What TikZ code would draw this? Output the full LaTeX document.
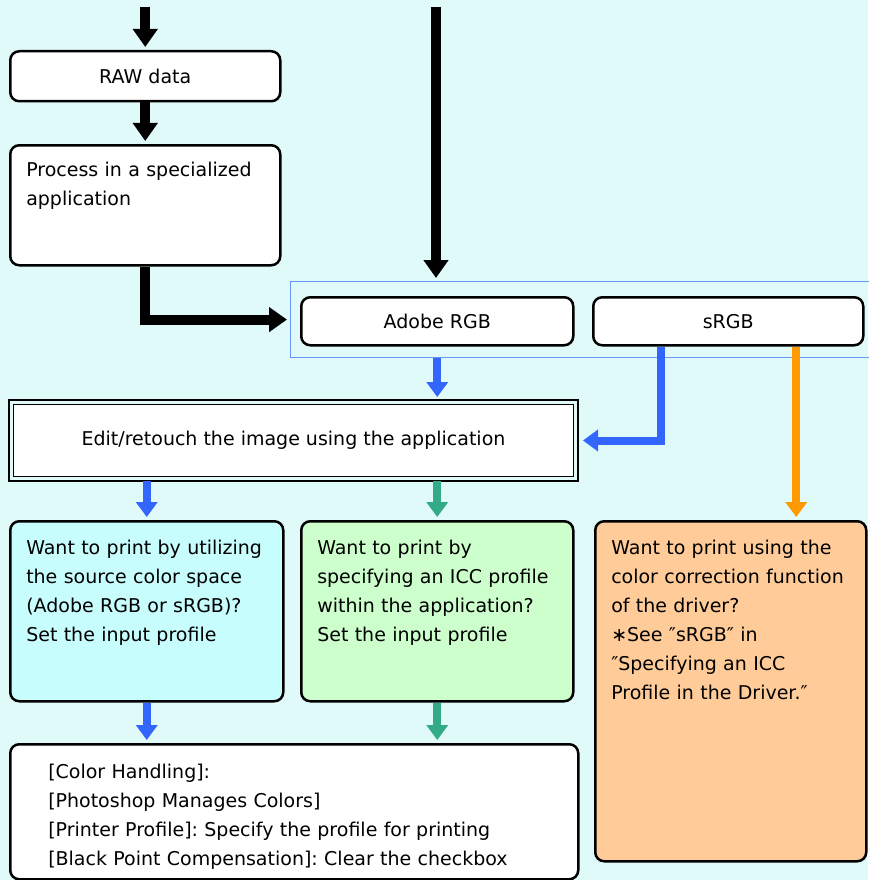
\documentclass[tikz,border=0pt]{standalone}
\usepackage{fontspec}
\setmainfont{DejaVu Sans}
\usetikzlibrary{arrows.meta, calc}
\definecolor{FlowBack}{RGB}{224,250,250}
\definecolor{FlowFrame}{RGB}{102,153,255}
\definecolor{FlowBlue}{RGB}{51,102,255}
\definecolor{FlowGreen}{RGB}{51,170,136}
\definecolor{FlowOrange}{RGB}{255,153,0}
\definecolor{FlowCyan}{RGB}{200,253,253}
\definecolor{FlowMint}{RGB}{204,255,204}
\definecolor{FlowPeach}{RGB}{255,204,153}
\frenchspacing

\tikzset{
  every node/.style={font=\fontsize{19}{29}\selectfont},
  plainbox/.style={draw, line width=2.5pt, rounded corners=9pt, fill=white,
                   anchor=north west, inner sep=0pt, minimum height=48pt},
  textbox/.style={plainbox, align=left, inner xsep=16pt, text height=33pt},
  blk/.style={line width=10pt, -{Triangle[width=24pt,length=18pt]}, shorten >=3pt},
  clr/.style={line width=8pt, draw=#1, -{Triangle[width=21pt,length=15pt]}, shorten >=3pt},
}

\begin{document}
\begin{tikzpicture}[x=1pt,y=-1pt]
  \path[use as bounding box] (0,0) rectangle (868,880);
  \fill[FlowBack] (0,0) rectangle (868,880);

  % incoming data
  \node[plainbox, minimum width=270pt, minimum height=50pt] (raw) at (9,50) {RAW data};
  \node[textbox, text width=238pt, text height=31pt, text depth=89pt] (proc) at (9,144)
    {Process in a specialized\\application};
  \coordinate (inL) at (raw.north |- 0,7);
  \coordinate (inR) at (436,7);

  % colour spaces
  \node[draw=FlowFrame, line width=1.2pt, anchor=north west, inner sep=0pt,
        minimum width=590pt, minimum height=76pt] (space) at (290,281) {};
  \node[plainbox, minimum width=272pt] (adobe) at (300,296) {Adobe RGB};
  \node[plainbox, minimum width=270pt] (srgb) at (592,296) {sRGB};

  % editing
  \node[plainbox, line width=1pt, sharp corners, minimum width=560pt, minimum height=72pt] (edit) at (13,404)
    {Edit/retouch the image using the application};
  \draw[line width=2.5pt] ([shift={(-4,-4)}]edit.north west) rectangle ([shift={(4,4)}]edit.south east);

  % printing choices
  \node[textbox, fill=FlowCyan, text width=241pt, text depth=147pt] (usesrc) at (9,520)
    {Want to print by utilizing\\the source color space\\(Adobe RGB or sRGB)?\\Set the input profile};
  \node[textbox, fill=FlowMint, text width=240pt, text depth=147pt] (useicc) at (300,520)
    {Want to print by\\specifying an ICC profile\\within the application?\\Set the input profile};
  \node[textbox, fill=FlowPeach, text width=239pt, text depth=307pt] (usedrv) at (594,520)
    {Want to print using the\\color correction function\\of the driver?\\∗See ″sRGB″ in\\″Specifying an ICC\\Profile in the Driver.″};
  \node[textbox, inner xsep=38pt, text width=492pt, text height=34pt, text depth=101pt] (settings) at (9,743)
    {{[}Color Handling]:\\{[}Photoshop Manages Colors]\\{[}Printer Profile]: Specify the profile for printing\\{[}Black Point Compensation]: Clear the checkbox};

  % black flow
  \draw[blk] (inL) -- (raw.north);
  \draw[blk] (raw.south) -- (proc.north);
  \draw[blk] (proc.south) |- (space.west);
  \draw[blk] (inR) -- (inR |- space.north);

  % coloured flow
  \draw[clr=FlowBlue, shorten >=7pt] (adobe.south |- space.south) -- (adobe.south |- edit.north);
  \draw[clr=FlowBlue, shorten >=9pt] ([xshift=-67pt]srgb.south) |- (edit.east);
  \draw[clr=FlowOrange] ([xshift=68pt]srgb.south) -- ([xshift=68pt]srgb.south |- usedrv.north);
  \draw[clr=FlowBlue, shorten <=4pt] (usesrc.north |- edit.south) -- (usesrc.north);
  \draw[clr=FlowGreen, shorten <=4pt] (useicc.north |- edit.south) -- (useicc.north);
  \draw[clr=FlowBlue] (usesrc.south) -- (usesrc.south |- settings.north);
  \draw[clr=FlowGreen] (useicc.south) -- (useicc.south |- settings.north);
\end{tikzpicture}
\end{document}
